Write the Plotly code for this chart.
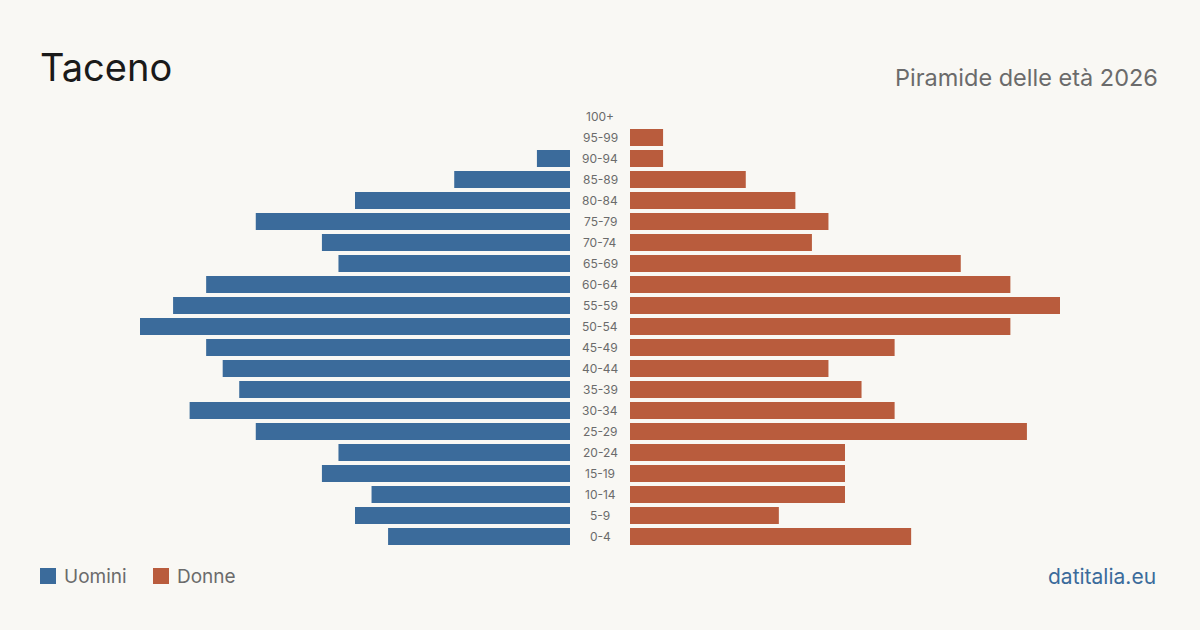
import plotly.graph_objects as go

age_groups = ["0-4", "5-9", "10-14", "15-19", "20-24", "25-29", "30-34", "35-39",
              "40-44", "45-49", "50-54", "55-59", "60-64", "65-69", "70-74", "75-79",
              "80-84", "85-89", "90-94", "95-99", "100+"]
uomini = [11, 13, 12, 15, 14, 19, 23, 20, 21, 22, 26, 24, 22, 14, 15, 19, 13, 7, 2, 0, 0]
donne = [17, 9, 13, 13, 13, 24, 16, 14, 12, 16, 23, 26, 23, 20, 11, 12, 10, 7, 2, 2, 0]

BG = "#f9f8f4"
BLUE = "#3b6b9b"
RED = "#b95c3d"
FONT = "Inter"

xmax = max(max(uomini), max(donne))

fig = go.Figure()
fig.add_trace(go.Bar(y=age_groups, x=uomini, orientation="h", marker_color=BLUE,
                     marker_line_width=0,
                     xaxis="x", yaxis="y", name="Uomini", showlegend=False,
                     hovertemplate="%{y}: %{x}<extra>Uomini</extra>"))
fig.add_trace(go.Bar(y=age_groups, x=donne, orientation="h", marker_color=RED,
                     marker_line_width=0,
                     xaxis="x2", yaxis="y", name="Donne", showlegend=False,
                     hovertemplate="%{y}: %{x}<extra>Donne</extra>"))

W, H = 1200, 630
top, bottom = 106, 547
fig.update_layout(
    width=W, height=H,
    paper_bgcolor=BG, plot_bgcolor=BG,
    margin=dict(l=0, r=0, t=0, b=0),
    bargap=0.19,
    xaxis=dict(domain=[140 / W, 570 / W], range=[xmax, 0], visible=False, fixedrange=True),
    xaxis2=dict(domain=[630 / W, 1060 / W], range=[0, xmax], visible=False, fixedrange=True),
    yaxis=dict(domain=[(H - bottom) / H, (H - top) / H], categoryorder="array",
               categoryarray=age_groups, range=[-0.5, len(age_groups) - 0.5],
               visible=False, fixedrange=True),
    font=dict(family=FONT),
    showlegend=False,
)

for ag in age_groups:
    fig.add_annotation(x=0.5, xref="paper", y=ag, yref="y", text=ag, showarrow=False,
                       font=dict(size=12, color="#6b6b6b", family=FONT),
                       xanchor="center", yanchor="middle")

# Title and subtitle
fig.add_annotation(x=38 / W, y=1 - 67 / H, xref="paper", yref="paper", text="Taceno",
                   showarrow=False, xanchor="left", yanchor="middle",
                   font=dict(size=38, color="#1a1a1a", family=FONT))
fig.add_annotation(x=1160 / W, y=1 - 77 / H, xref="paper", yref="paper",
                   text="Piramide delle età 2026", showarrow=False, xanchor="right",
                   yanchor="middle", font=dict(size=23.5, color="#6b6b6b", family=FONT))

# Legend
for x0, label, col in [(40, "Uomini", BLUE), (153, "Donne", RED)]:
    fig.add_shape(type="rect", xref="paper", yref="paper",
                  x0=x0 / W, x1=(x0 + 16) / W, y0=1 - 584 / H, y1=1 - 568 / H,
                  fillcolor=col, line=dict(width=0))
    fig.add_annotation(x=(x0 + 22) / W, y=1 - 576 / H, xref="paper", yref="paper",
                       text=label, showarrow=False, xanchor="left", yanchor="middle",
                       font=dict(size=19, color="#6b6b6b", family=FONT))

fig.add_annotation(x=1158 / W, y=1 - 576 / H, xref="paper", yref="paper",
                   text="datitalia.eu", showarrow=False, xanchor="right", yanchor="middle",
                   font=dict(size=21, color=BLUE, family=FONT))

fig.write_html("out.html", config={"displayModeBar": False})
